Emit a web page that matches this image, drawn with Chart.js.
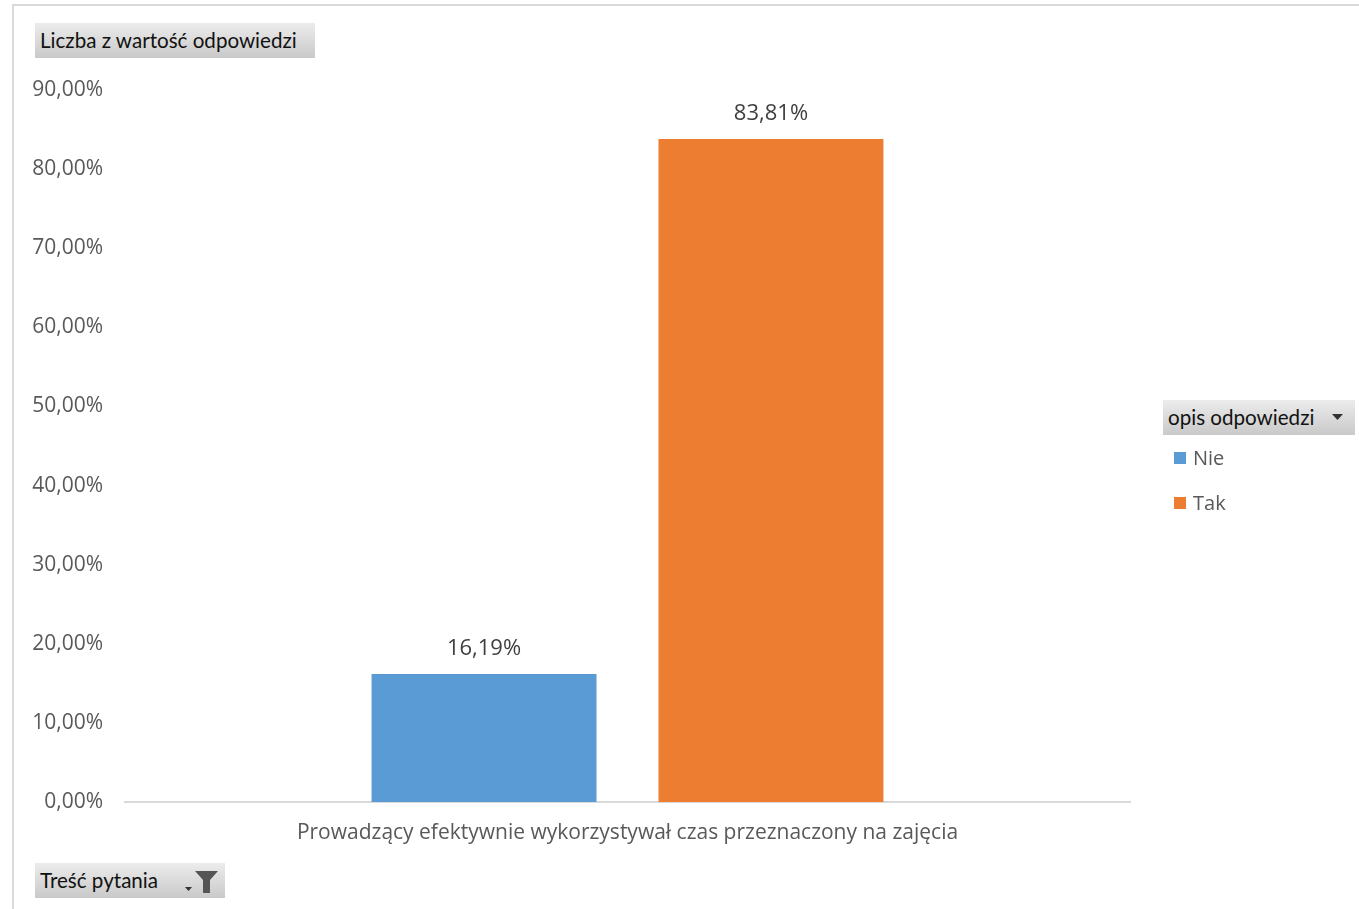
<!DOCTYPE html>
<html>
<head>
<meta charset="utf-8">
<script src="https://cdn.jsdelivr.net/npm/chart.js@4.4.0/dist/chart.umd.min.js"></script>
<style>
  html, body { margin: 0; padding: 0; background: #fff; }
  #wrap { position: relative; width: 1359px; height: 909px; overflow: hidden; }
  #frame { position: absolute; left: 12px; top: 4px; width: 1400px; height: 1000px; border-left: 2px solid #d9d9d9; border-top: 2px solid #d9d9d9; box-sizing: border-box; }
  canvas { position: absolute; left: 0; top: 0; }
  .btn { position: absolute; height: 35px; box-sizing: border-box; background: linear-gradient(#ececec, #c9c9c9); font-family: Lato, "Open Sans", sans-serif; font-size: 20.6px; color: #111; line-height: 35px; padding-left: 5px; white-space: nowrap; }
  #legend { position: absolute; left: 1174px; top: 444px; font-family: "Open Sans", sans-serif; font-size: 20px; color: #595959; }
  .li { position: relative; height: 45px; line-height: 28px; }
  .sw { position: absolute; left: 0; top: 8px; width: 12px; height: 12px; }
  .lt { position: absolute; left: 19px; top: 0; }
</style>
</head>
<body>
<div id="wrap">
  <div id="frame"></div>
  <canvas id="c" width="1359" height="909"></canvas>
  <div class="btn" style="left:35px; top:23px; width:280px;">Liczba z wartość odpowiedzi</div>
  <div class="btn" style="left:35px; top:863px; width:190px;">Treść pytania
    <svg style="position:absolute; left:150px; top:7px;" width="36" height="24" viewBox="0 0 36 24">
      <polygon points="0,17 7,17 3.5,21" fill="#333"/>
      <polygon points="10,1 33,1 25,10 25,23 18,23 18,10" fill="#555"/>
    </svg>
  </div>
  <div class="btn" style="left:1163px; top:400px; width:192px;">opis odpowiedzi
    <svg style="position:absolute; left:169px; top:13px;" width="12" height="8" viewBox="0 0 12 8">
      <polygon points="0,1 11,1 5.5,7" fill="#333"/>
    </svg>
  </div>
  <div id="legend"></div>
</div>
<script>
const categories = ["Prowadzący efektywnie wykorzystywał czas przeznaczony na zajęcia"];
const seriesNames = ["Nie", "Tak"];
const nieValues = [16.19];
const takValues = [83.81];
const seriesColors = ["#5B9BD5", "#ED7D31"];
const yTicks = [0, 10, 20, 30, 40, 50, 60, 70, 80, 90];

function fmtPct(v) { return v.toFixed(2).replace('.', ',') + '%'; }

const legendEl = document.getElementById('legend');
seriesNames.forEach((n, i) => {
  const d = document.createElement('div');
  d.className = 'li';
  d.innerHTML = '<span class="sw" style="background:' + seriesColors[i] + '"></span><span class="lt">' + n + '</span>';
  legendEl.appendChild(d);
});

const labelPlugin = {
  id: 'barLabels',
  afterDatasetsDraw(chart) {
    const ctx = chart.ctx;
    ctx.save();
    ctx.font = '22px "Open Sans", sans-serif';
    ctx.fillStyle = '#404040';
    ctx.textAlign = 'center';
    ctx.textBaseline = 'middle';
    chart.data.datasets.forEach((ds, di) => {
      const meta = chart.getDatasetMeta(di);
      meta.data.forEach((bar, i) => {
        ctx.fillText(fmtPct(ds.data[i]), bar.x, bar.y - 25);
      });
    });
    ctx.restore();
  }
};

new Chart(document.getElementById('c'), {
  type: 'bar',
  data: {
    labels: categories,
    datasets: [
      { label: seriesNames[0], data: nieValues, backgroundColor: seriesColors[0] },
      { label: seriesNames[1], data: takValues, backgroundColor: seriesColors[1] }
    ]
  },
  options: {
    responsive: false,
    animation: false,
    events: [],
    categoryPercentage: 0.571,
    barPercentage: 0.784,
    layout: { padding: { left: 0, right: 229, top: 90, bottom: 0 } },
    plugins: { legend: { display: false }, tooltip: { enabled: false } },
    scales: {
      x: {
        grid: { display: false, drawTicks: false },
        border: { display: true, color: '#d9d9d9', width: 2 },
        ticks: { color: '#595959', font: { family: '"Open Sans", sans-serif', size: 21 }, padding: 18, maxRotation: 0 },
        afterFit(s) { s.height = 107; }
      },
      y: {
        min: 0, max: 90,
        afterBuildTicks(s) { s.ticks = yTicks.map(v => ({ value: v })); },
        grid: { display: false, drawTicks: false },
        border: { display: false },
        ticks: { color: '#595959', font: { family: '"Open Sans", sans-serif', size: 21 }, padding: 22, callback: v => fmtPct(v) },
        afterFit(s) { s.width = 125; }
      }
    }
  },
  plugins: [labelPlugin]
});
</script>
</body>
</html>
